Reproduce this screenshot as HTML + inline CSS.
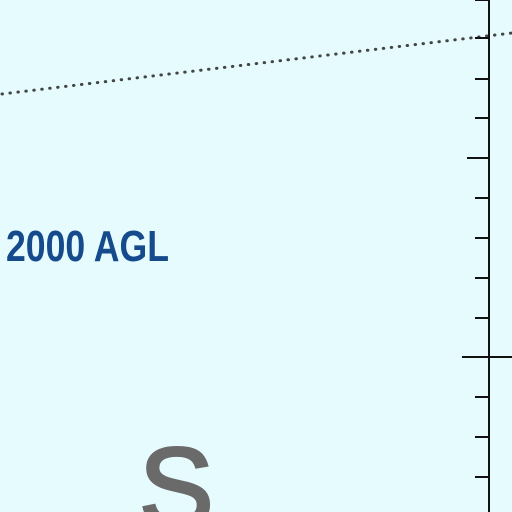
<!DOCTYPE html>
<html><head><meta charset="utf-8"><style>
html,body{margin:0;padding:0;background:#e6fbfd;width:512px;height:512px;overflow:hidden;}
svg{display:block}
</style></head><body>
<svg width="512" height="512" viewBox="0 0 512 512">
<rect x="0" y="0" width="512" height="512" fill="#e6fbfd"/>
<line x1="2" y1="94" x2="512" y2="33" stroke="#444" stroke-width="3" stroke-dasharray="0.5 7.5" stroke-linecap="round"/>
<line x1="489" y1="0" x2="489" y2="512" stroke="#111" stroke-width="2"/>
<g id="ticks"></g>
<text x="6" y="261" font-family="'Liberation Sans Narrow','Liberation Sans',sans-serif" font-weight="bold" font-size="44" fill="#154a8c" textLength="163" lengthAdjust="spacingAndGlyphs">2000 AGL</text>
<text x="139" y="526" font-family="'Liberation Sans',sans-serif" font-size="112" fill="#6a6a6a" stroke="#6a6a6a" stroke-width="3">S</text>
</svg>
<script>
const tickYs=[0,38,79,118,158,198,238,278,318,357,397,437,477];
const tickLens=[14,14,14,14,22,14,14,14,14,27,14,14,14];
const g=document.getElementById('ticks');
tickYs.forEach((y,i)=>{
 const l=document.createElementNS('http://www.w3.org/2000/svg','line');
 
 
 l.setAttribute('x1',489-tickLens[i]);
 l.setAttribute('x2',i===9?512:489);
 l.setAttribute('y1',y);l.setAttribute('y2',y);
 l.setAttribute('stroke','#111');l.setAttribute('stroke-width','2');
 g.appendChild(l);
});
</script>
</body></html>
